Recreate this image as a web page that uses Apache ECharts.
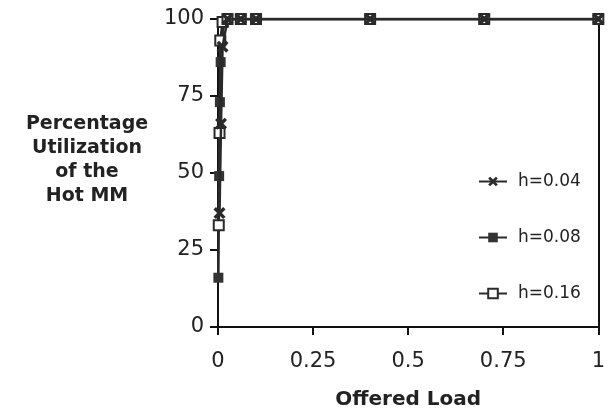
<!DOCTYPE html>
<html>
<head>
<meta charset="utf-8">
<script src="https://cdn.jsdelivr.net/npm/echarts@6/dist/echarts.min.js"></script>
<style>
html,body{margin:0;padding:0;background:#fff;}
#chart{width:608px;height:415px;}
</style>
</head>
<body>
<div id="chart"></div>
<script>
// ---- data ----
var seriesNames = ['h=0.04', 'h=0.08', 'h=0.16'];
var loadH004 = [0.004, 0.008, 0.012, 0.025, 0.06, 0.1, 0.4, 0.7, 1.0];
var utilH004 = [37, 66, 91, 100, 100, 100, 100, 100, 100];
var loadH008 = [0.001, 0.003, 0.005, 0.007, 0.015, 0.025, 0.06, 0.1, 0.4, 0.7, 1.0];
var utilH008 = [16, 49, 73, 86, 99, 100, 100, 100, 100, 100, 100];
var loadH016 = [0.002, 0.004, 0.006, 0.012, 0.025, 0.06, 0.1, 0.4, 0.7, 1.0];
var utilH016 = [33, 63, 93, 99, 100, 100, 100, 100, 100, 100];
var xTicks = [0, 0.25, 0.5, 0.75, 1];
var yTicks = [0, 25, 50, 75, 100];
var xAxisTitle = 'Offered Load';
var yAxisTitle = 'Percentage\nUtilization\nof the\nHot MM';

function pairs(xs, ys) { return xs.map(function (x, i) { return [x, ys[i]]; }); }

var FONT = "'DejaVu Sans', sans-serif";
var INK = '#222';
var xPath = 'path://M0,2 L2,0 L5,3 L8,0 L10,2 L7,5 L10,8 L8,10 L5,7 L2,10 L0,8 L3,5 Z';

var chart = echarts.init(document.getElementById('chart'), null, {renderer: 'canvas'});
var lineStyle = {color: '#2a2a2a', width: 2.5};
function mkSeries(name, data, symbol, size, itemStyle, z) {
  return {
    name: name, type: 'line', data: data, symbol: symbol, symbolSize: size,
    showAllSymbol: true, lineStyle: lineStyle, itemStyle: itemStyle,
    animation: false, z: z
  };
}
function mkLegend(name, top) {
  return {
    data: [name], left: 473, top: top, orient: 'vertical',
    itemWidth: 28, itemHeight: 12,
    textStyle: {fontFamily: FONT, fontSize: 17, color: INK, padding: [0, 0, 0, 6]}
  };
}
chart.setOption({
  backgroundColor: '#fff',
  animation: false,
  grid: {left: 218, right: 7, top: 19, bottom: 88},
  xAxis: [{
    type: 'value', min: xTicks[0], max: xTicks[xTicks.length - 1], interval: 0.25,
    axisLine: {lineStyle: {color: '#111', width: 2}},
    axisTick: {length: 8, lineStyle: {color: '#111', width: 2}},
    splitLine: {show: false},
    axisLabel: {fontFamily: FONT, fontSize: 21, color: INK, margin: 24},
    name: xAxisTitle, nameLocation: 'middle', nameGap: 63,
    nameTextStyle: {fontFamily: FONT, fontSize: 20, fontWeight: 'bold', color: INK}
  }],
  yAxis: [{
    type: 'value', min: yTicks[0], max: yTicks[yTicks.length - 1], interval: 25,
    axisLine: {lineStyle: {color: '#111', width: 2}},
    axisTick: {length: 8, lineStyle: {color: '#111', width: 2}},
    splitLine: {show: false},
    axisLabel: {fontFamily: FONT, fontSize: 21, color: INK, margin: 14}
  }, {
    type: 'value', position: 'right', min: 0, max: 100,
    axisLine: {show: true, lineStyle: {color: '#111', width: 2}},
    axisTick: {show: false}, axisLabel: {show: false}, splitLine: {show: false}
  }],
  legend: [mkLegend('h=0.04', 168), mkLegend('h=0.08', 224), mkLegend('h=0.16', 280)],
  graphic: [{
    type: 'text', x: 87, y: 160,
    style: {
      text: yAxisTitle, fill: INK, font: 'bold 19px ' + FONT,
      textAlign: 'center', textVerticalAlign: 'middle', lineHeight: 24
    }
  }],
  series: [
    mkSeries('h=0.04', pairs(loadH004, utilH004), xPath, 12, {color: '#2a2a2a'}, 5),
    mkSeries('h=0.08', pairs(loadH008, utilH008), 'rect', 10, {color: '#333'}, 3),
    mkSeries('h=0.16', pairs(loadH016, utilH016), 'emptyRect', 10, {color: '#2a2a2a', borderWidth: 2, borderColor: '#2a2a2a'}, 4)
  ]
});
</script>
</body>
</html>
